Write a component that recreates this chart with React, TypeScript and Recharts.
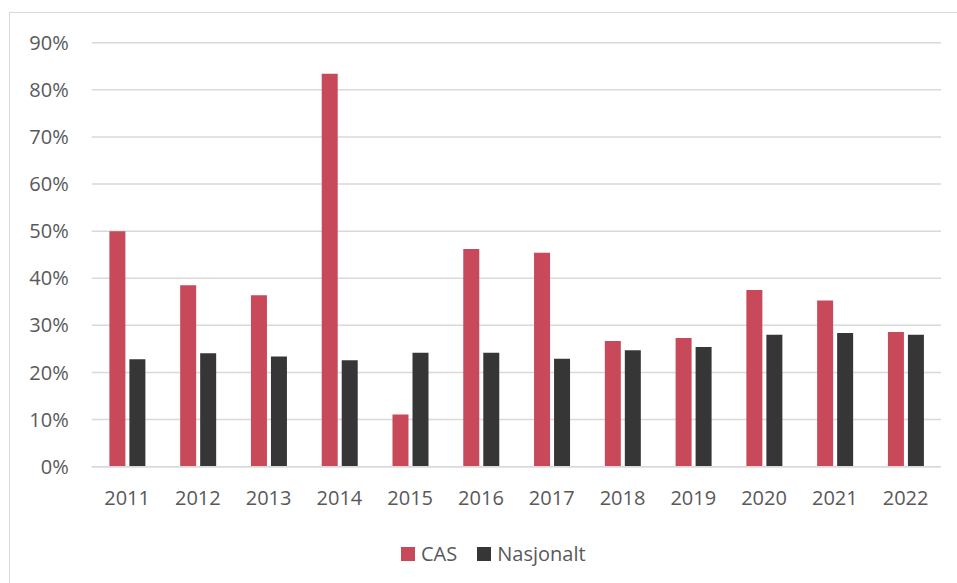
import { BarChart, Bar, XAxis, YAxis, CartesianGrid, Legend } from 'recharts';

const years = ['2011', '2012', '2013', '2014', '2015', '2016', '2017', '2018', '2019', '2020', '2021', '2022'];
const casValues = [50.0, 38.5, 36.4, 83.4, 11.1, 46.2, 45.4, 26.7, 27.3, 37.5, 35.3, 28.6];
const nasjonaltValues = [22.8, 24.1, 23.4, 22.6, 24.2, 24.2, 22.9, 24.7, 25.4, 28.0, 28.4, 28.0];
const yTicks = [0, 10, 20, 30, 40, 50, 60, 70, 80, 90];

const data = years.map((year, i) => ({
  year,
  CAS: casValues[i],
  Nasjonalt: nasjonaltValues[i],
}));

const FONT = '"Open Sans", sans-serif';
const TEXT = '#595959';

const renderLegend = (props: any) => {
  const { payload } = props;
  return (
    <div style={{ display: 'flex', alignItems: 'center', fontFamily: FONT, fontSize: 20, color: TEXT }}>
      {payload.map((entry: any, i: number) => (
        <div key={entry.value} style={{ display: 'flex', alignItems: 'center', marginLeft: i === 0 ? 0 : 20 }}>
          <span style={{ width: 14, height: 14, background: entry.color, display: 'inline-block', marginRight: 6 }} />
          <span>{entry.value}</span>
        </div>
      ))}
    </div>
  );
};

export default function App() {
  return (
    <div style={{ position: 'absolute', left: 0, top: 0, width: 957, height: 583, overflow: 'hidden', background: '#fff' }}>
      <div
        style={{
          position: 'absolute',
          left: 9,
          top: 12,
          width: 1000,
          height: 700,
          border: '1.5px solid #d9d9d9',
        }}
      />
      <div style={{ position: 'absolute', left: 0, top: 0 }}>
        <BarChart
          width={957}
          height={583}
          data={data}
          margin={{ top: 42.7, right: 16, bottom: 56.3, left: 0 }}
          barCategoryGap="25%"
          barGap={4}
        >
          <CartesianGrid vertical={false} stroke="#d9d9d9" strokeWidth={1.5} />
          <XAxis
            dataKey="year"
            height={60}
            tickLine={false}
            tickSize={0}
            tickMargin={24}
            axisLine={{ stroke: '#d9d9d9', strokeWidth: 1.5 }}
            tick={{ fill: TEXT, fontSize: 20, fontFamily: FONT }}
          />
          <YAxis
            width={91.7}
            domain={[0, 90]}
            ticks={yTicks}
            interval={0}
            tickFormatter={(v) => `${v}%`}
            tickLine={false}
            tickSize={0}
            tickMargin={23}
            axisLine={false}
            tick={{ fill: TEXT, fontSize: 20, fontFamily: FONT }}
          />
          <Legend
            verticalAlign="middle"
            align="center"
            layout="horizontal"
            content={renderLegend}
            wrapperStyle={{ top: 540, left: 401, width: 300, height: 22 }}
          />
          <Bar dataKey="CAS" fill="#c8495a" isAnimationActive={false} />
          <Bar dataKey="Nasjonalt" fill="#363636" isAnimationActive={false} />
        </BarChart>
      </div>
    </div>
  );
}
